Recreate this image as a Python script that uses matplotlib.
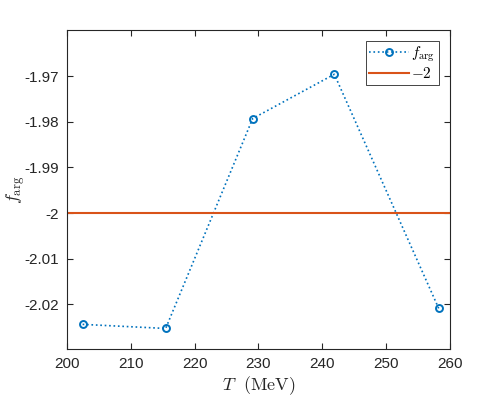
import matplotlib
matplotlib.use("Agg")
import matplotlib.pyplot as plt

# data
T = [202.45, 215.46, 229.09, 241.88, 258.23]
f_arg = [-2.0244, -2.0253, -1.9793, -1.9696, -2.0209]
ref_level = -2.0

x_ticks = [200, 210, 220, 230, 240, 250, 260]
y_ticks = [-2.02, -2.01, -2.0, -1.99, -1.98, -1.97]
y_ticklabels = ["-2.02", "-2.01", "-2", "-1.99", "-1.98", "-1.97"]

plt.rcParams['font.family'] = ['Liberation Sans', 'DejaVu Sans']
plt.rcParams['mathtext.fontset'] = 'cm'

blue = "#0072BD"
orange = "#D95319"
axis_col = "#262626"

fig = plt.figure(figsize=(4.98, 3.99), dpi=100)
ax = fig.add_axes([0.1345, 0.1253, 0.7691, 0.7995])

ax.plot(T, f_arg, linestyle=':', color=blue, linewidth=1.2, marker='o',
        markersize=5, markerfacecolor='none', markeredgewidth=1.4,
        label=r'$f_{\mathrm{arg}}$')
ax.axhline(ref_level, color=orange, linewidth=1.5, label=r'$-2$')

ax.set_xlim(200, 260)
ax.set_ylim(-2.0298, -1.9599)
ax.set_xticks(x_ticks)
ax.set_yticks(y_ticks)
ax.set_yticklabels(y_ticklabels)

ax.tick_params(direction='in', top=True, right=True, length=4, width=0.8,
               labelsize=11, colors=axis_col, pad=6)
for s in ax.spines.values():
    s.set_color(axis_col)
    s.set_linewidth(0.8)

ax.set_xlabel(r'$T\ \ (\mathrm{MeV})$', fontsize=13, color=axis_col, labelpad=2)
ax.set_ylabel(r'$f_{\mathrm{arg}}$', fontsize=13, color=axis_col, labelpad=-2)

leg = ax.legend(loc='upper right', fontsize=11, fancybox=False,
                edgecolor=axis_col, framealpha=1, handlelength=2.6,
                borderpad=0.25, labelspacing=0.15, handletextpad=0.15,
                borderaxespad=0.7)
leg.get_frame().set_linewidth(0.6)

fig.savefig("out.png", dpi=100)
